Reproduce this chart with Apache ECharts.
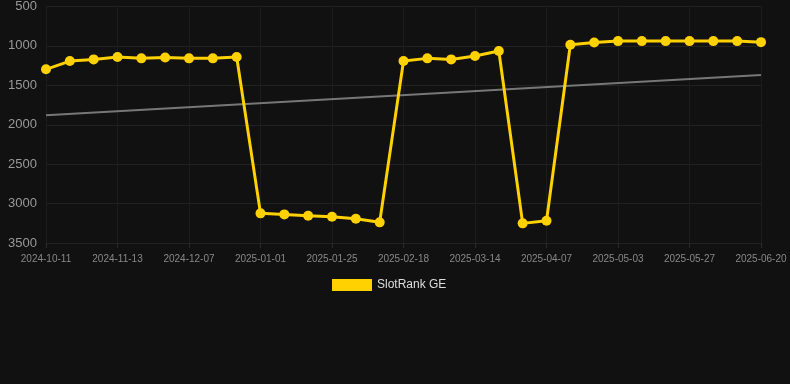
<!DOCTYPE html>
<html>
<head>
<meta charset="utf-8">
<style>
  html, body { margin: 0; padding: 0; background: #111111; }
  #chart { width: 790px; height: 384px; }
</style>
<script src="https://cdn.jsdelivr.net/npm/echarts@6/dist/echarts.min.js"></script>
</head>
<body>
<div id="chart"></div>
<script>
const categories = [
  '2024-10-11','2024-10-22','2024-11-02','2024-11-13','2024-11-21','2024-11-29',
  '2024-12-07','2024-12-15','2024-12-23','2025-01-01','2025-01-09','2025-01-17',
  '2025-01-25','2025-02-02','2025-02-10','2025-02-18','2025-02-26','2025-03-06',
  '2025-03-14','2025-03-22','2025-03-30','2025-04-07','2025-04-16','2025-04-25',
  '2025-05-03','2025-05-11','2025-05-19','2025-05-27','2025-06-04','2025-06-12',
  '2025-06-20'
];
const rankValues = [
  1297, 1192, 1171, 1141, 1158, 1146, 1158, 1158, 1141,
  3124, 3137, 3154, 3167, 3192, 3238,
  1192, 1158, 1171, 1129, 1065,
  3251, 3217,
  985, 956, 939, 939, 939, 939, 939, 939, 952
];
const trendEnds = [1880, 1369];
const yTicks = { min: 500, max: 3500, interval: 500 };
const seriesName = 'SlotRank GE';

const trendData = categories.map(function (c, i) {
  if (i === 0) return trendEnds[0];
  if (i === categories.length - 1) return trendEnds[1];
  return null;
});

const chart = echarts.init(document.getElementById('chart'));
chart.setOption({
  backgroundColor: '#111111',
  animation: false,
  grid: { left: 46, right: 29, top: 6, bottom: 141, containLabel: false },
  legend: {
    bottom: 88,
    left: 327,
    itemWidth: 40,
    itemHeight: 12,
    itemGap: 10,
    data: [{ name: seriesName, icon: 'rect' }],
    textStyle: { color: '#dddddd', fontSize: 12, fontFamily: 'Arial, Liberation Sans, sans-serif' }
  },
  xAxis: {
    type: 'category',
    data: categories,
    boundaryGap: false,
    axisLine: { show: false },
    axisTick: { show: true, interval: 2, length: 5, lineStyle: { color: '#2a2a2a' } },
    axisLabel: { interval: 2, color: '#888888', fontSize: 10, margin: 11, fontFamily: 'Arial, Liberation Sans, sans-serif' },
    splitLine: { show: true, interval: 2, lineStyle: { color: '#1c1c1c', width: 1 } }
  },
  yAxis: {
    type: 'value',
    inverse: true,
    min: yTicks.min,
    max: yTicks.max,
    interval: yTicks.interval,
    axisLine: { show: false },
    axisTick: { show: false },
    axisLabel: {
      color: '#999999', fontSize: 13, margin: 9,
      fontFamily: 'Arial, Liberation Sans, sans-serif',
      formatter: function (v) { return String(v); }
    },
    splitLine: { show: true, lineStyle: { color: '#222222', width: 1 } }
  },
  series: [
    {
      name: seriesName,
      type: 'line',
      data: rankValues,
      symbol: 'circle',
      symbolSize: 10,
      lineStyle: { color: '#FFD100', width: 3 },
      itemStyle: { color: '#FFD100' },
      z: 3
    },
    {
      name: 'trend',
      type: 'line',
      data: trendData,
      connectNulls: true,
      symbol: 'none',
      lineStyle: { color: '#777777', width: 2 },
      itemStyle: { color: '#777777' },
      z: 2
    }
  ]
});
</script>
</body>
</html>
